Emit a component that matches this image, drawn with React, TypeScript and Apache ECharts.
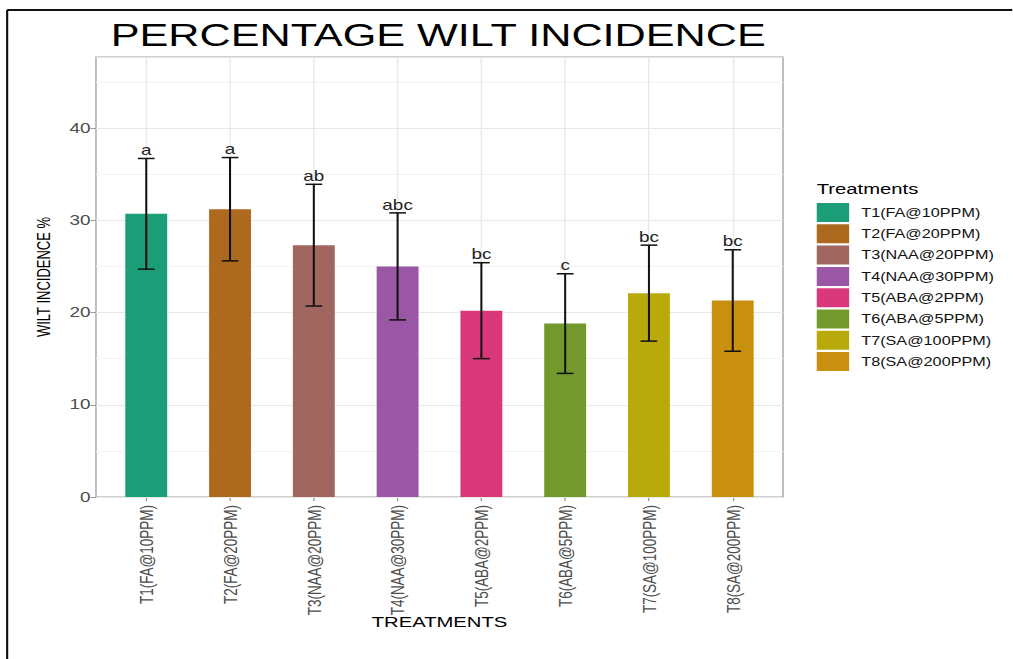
import React, { useEffect, useRef } from 'react';
import * as echarts from 'echarts';

const categories = [
  'T1(FA@10PPM)',
  'T2(FA@20PPM)',
  'T3(NAA@20PPM)',
  'T4(NAA@30PPM)',
  'T5(ABA@2PPM)',
  'T6(ABA@5PPM)',
  'T7(SA@100PPM)',
  'T8(SA@200PPM)',
];
const means = [30.7, 31.2, 27.3, 25.0, 20.2, 18.8, 22.1, 21.3];
const errors = [6.0, 5.6, 6.6, 5.8, 5.2, 5.4, 5.2, 5.5];
const letters = ['a', 'a', 'ab', 'abc', 'bc', 'c', 'bc', 'bc'];
const colors = ['#1b9e77', '#ad6a1f', '#a0665f', '#9957a5', '#d9387a', '#73992c', '#b9aa0c', '#c9900f'];

const SX = 1.35; // horizontal stretch of the reference picture
const FONT = '"Liberation Sans", Arial, Helvetica, sans-serif';
const Y_MAX = 47.7;

export default function App() {
  const ref = useRef<HTMLDivElement>(null);
  useEffect(() => {
    const chart = echarts.init(ref.current as HTMLDivElement, null, { renderer: 'svg' });
    const panelLeft = 71.1;
    const panelTop = 57;
    const panelW = 508.9;
    const panelH = 440;
    const unit = panelW / (categories.length - 1 + 1.2);
    const barLeft = panelLeft + 0.1 * unit;
    const barW = unit * categories.length;

    const barSeries = categories.map((name, i) => ({
      name,
      type: 'bar',
      stack: 'total',
      xAxisIndex: 1,
      yAxisIndex: 2,
      barWidth: '50%',
      itemStyle: { color: colors[i] },
      data: means.map((v, j) => (j === i ? v : null)),
    }));

    const errSeries = {
      type: 'custom',
      xAxisIndex: 1,
      yAxisIndex: 2,
      z: 5,
      data: means.map((m, i) => [i, m - errors[i], m + errors[i]]),
      renderItem: (params: any, api: any) => {
        const i = api.value(0);
        const lo = api.coord([i, api.value(1)]);
        const hi = api.coord([i, api.value(2)]);
        const hw = api.size([1, 0])[0] * 0.1;
        const style = { stroke: '#111', lineWidth: 1.5 };
        return {
          type: 'group',
          children: [
            { type: 'line', shape: { x1: hi[0], y1: hi[1], x2: lo[0], y2: lo[1] }, style },
            { type: 'line', shape: { x1: hi[0] - hw, y1: hi[1], x2: hi[0] + hw, y2: hi[1] }, style },
            { type: 'line', shape: { x1: lo[0] - hw, y1: lo[1], x2: lo[0] + hw, y2: lo[1] }, style },
            {
              type: 'text',
              x: hi[0],
              y: hi[1] - 1,
              style: {
                text: letters[i],
                fill: '#222',
                fontSize: 14,
                fontFamily: FONT,
                align: 'center',
                verticalAlign: 'bottom',
              },
            },
          ],
        };
      },
    };

    chart.setOption({
      animation: false,
      backgroundColor: '#ffffff',
      textStyle: { fontFamily: FONT },
      title: [
        {
          text: 'PERCENTAGE WILT INCIDENCE',
          left: 82,
          top: 19,
          padding: 0,
          textStyle: { fontSize: 32, fontWeight: 'normal', color: '#000', fontFamily: FONT },
        },
        {
          text: 'Treatments',
          left: 605,
          top: 181,
          padding: 0,
          textStyle: { fontSize: 15, fontWeight: 'normal', color: '#000', fontFamily: FONT },
        },
      ],
      legend: {
        orient: 'vertical',
        left: 605,
        top: 203,
        padding: 0,
        itemWidth: 24,
        itemHeight: 19,
        itemGap: 2.3,
        icon: 'rect',
        selectedMode: false,
        data: categories,
        textStyle: { fontSize: 12, color: '#111', fontFamily: FONT, padding: [0, 0, 0, 4] },
      },
      grid: [
        {
          left: panelLeft,
          top: panelTop,
          width: panelW,
          height: panelH,
          show: true,
          borderColor: '#a0a0a0',
          borderWidth: 1,
          backgroundColor: 'transparent',
        },
        { left: barLeft, top: panelTop, width: barW, height: panelH },
      ],
      xAxis: [
        { type: 'value', gridIndex: 0, min: 0, max: 1, show: false },
        {
          type: 'category',
          gridIndex: 1,
          data: categories,
          axisLine: { show: false },
          axisTick: { show: true, alignWithLabel: true, length: 4, lineStyle: { color: '#999' } },
          splitLine: { show: true, alignWithLabel: true, lineStyle: { color: '#e8e8e8', width: 1 } },
          axisLabel: {
            rotate: 90,
            margin: 8,
            fontSize: 13.5,
            color: '#4d4d4d',
            fontFamily: FONT,
            interval: 0,
          },
          name: 'TREATMENTS',
          nameLocation: 'middle',
          nameGap: 117,
          nameMoveOverlap: false,
          nameTextStyle: { fontSize: 15, color: '#000', fontFamily: FONT },
        },
      ],
      yAxis: [
        {
          type: 'value',
          gridIndex: 0,
          position: 'left',
          min: 0,
          max: Y_MAX,
          interval: 5,
          z: 0,
          axisLine: { show: false },
          axisTick: { show: false },
          axisLabel: { show: false },
          splitLine: { show: true, lineStyle: { color: '#f3f3f3', width: 1 } },
        },
        {
          type: 'value',
          gridIndex: 0,
          position: 'left',
          offset: 0,
          min: 0,
          max: Y_MAX,
          interval: 10,
          z: 1,
          axisLine: { show: false },
          axisTick: { show: true, length: 4, lineStyle: { color: '#999' } },
          axisLabel: { fontSize: 14, color: '#4d4d4d', margin: 4, showMaxLabel: false, fontFamily: FONT },
          splitLine: { show: true, lineStyle: { color: '#e8e8e8', width: 1 } },
          name: 'WILT INCIDENCE %',
          nameLocation: 'middle',
          nameGap: 32,
          nameMoveOverlap: false,
          nameRotate: 90,
          nameTextStyle: { fontSize: 13, color: '#000', fontFamily: FONT },
        },
        { type: 'value', gridIndex: 1, min: 0, max: Y_MAX, show: false },
      ],
      series: [...barSeries, errSeries],
      graphic: [
        { type: 'line', shape: { x1: 5.3, y1: 10, x2: 750, y2: 10 }, style: { stroke: '#111', lineWidth: 2 } },
        { type: 'line', shape: { x1: 5.3, y1: 10, x2: 5.3, y2: 659 }, style: { stroke: '#111', lineWidth: 1.6 } },
      ],
    });
    return () => chart.dispose();
  }, []);

  return (
    <div
      ref={ref}
      style={{
        position: 'absolute',
        left: 0,
        top: 0,
        width: 1013 / SX,
        height: 659,
        transform: `scaleX(${SX})`,
        transformOrigin: '0 0',
      }}
    />
  );
}
